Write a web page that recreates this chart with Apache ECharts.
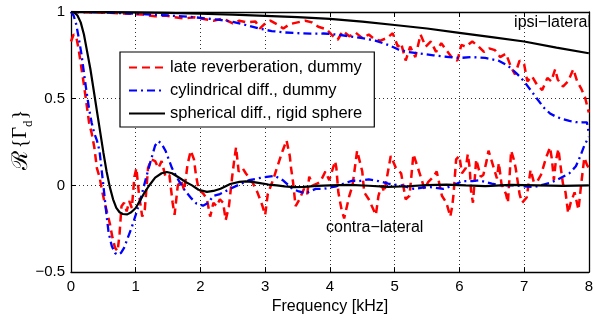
<!DOCTYPE html>
<html>
<head>
<meta charset="utf-8">
<script src="https://cdn.jsdelivr.net/npm/echarts@6/dist/echarts.min.js"></script>
<style>html,body{margin:0;padding:0;background:#fff}#c{width:596px;height:320px}</style>
</head>
<body>
<div id="c"></div>
<script>
// ---- data (frequency in kHz, value of Re{Gamma_d}) ----
const seriesNames = ['late reverberation, dummy', 'cylindrical diff., dummy', 'spherical diff., rigid sphere'];
const xTicks = [0, 1, 2, 3, 4, 5, 6, 7, 8];
const yTicks = [-0.5, 0, 0.5, 1];

// late reverberation, dummy — ipsi-lateral
const redIpsi = [[0,1.0],[0.3,0.998],[0.6,0.995],[0.9,0.99],[1.1,0.985],[1.3,0.975],[1.45,0.98],[1.6,0.97],[1.75,0.962],[1.9,0.97],[2.05,0.96],[2.2,0.95],[2.35,0.962],[2.5,0.935],[2.6,0.95],[2.72,0.94],[2.85,0.945],[2.92,0.905],[3.0,0.935],[3.08,0.95],[3.18,0.93],[3.28,0.905],[3.38,0.93],[3.5,0.94],[3.62,0.95],[3.72,0.94],[3.82,0.915],[3.95,0.9],[4.05,0.86],[4.12,0.84],[4.2,0.89],[4.3,0.86],[4.4,0.88],[4.5,0.85],[4.6,0.87],[4.68,0.845],[4.78,0.835],[4.88,0.85],[4.97,0.877],[5.05,0.8],[5.1,0.82],[5.17,0.72],[5.24,0.8],[5.32,0.74],[5.4,0.87],[5.48,0.8],[5.56,0.83],[5.64,0.77],[5.72,0.82],[5.8,0.78],[5.9,0.73],[5.97,0.72],[6.03,0.81],[6.1,0.8],[6.2,0.83],[6.3,0.8],[6.38,0.77],[6.46,0.79],[6.55,0.78],[6.63,0.74],[6.72,0.76],[6.8,0.68],[6.86,0.64],[6.93,0.72],[7.0,0.7],[7.05,0.6],[7.12,0.63],[7.2,0.58],[7.28,0.55],[7.36,0.62],[7.42,0.6],[7.48,0.67],[7.52,0.61],[7.6,0.57],[7.68,0.6],[7.76,0.67],[7.82,0.6],[7.88,0.56],[7.94,0.51],[7.97,0.5],[8.0,0.42]];
// late reverberation, dummy — contra-lateral
const redContra = [[0,0.83],[0.04,0.87],[0.08,0.86],[0.12,0.78],[0.16,0.68],[0.2,0.58],[0.24,0.47],[0.28,0.36],[0.32,0.3],[0.36,0.22],[0.4,0.1],[0.44,0.05],[0.48,-0.03],[0.52,-0.1],[0.56,-0.16],[0.6,-0.22],[0.64,-0.3],[0.68,-0.36],[0.72,-0.38],[0.75,-0.28],[0.78,-0.12],[0.82,-0.1],[0.86,-0.15],[0.9,-0.09],[0.94,-0.13],[0.98,0.05],[1.01,0.1],[1.05,-0.05],[1.1,-0.18],[1.14,-0.14],[1.19,0.1],[1.24,0.15],[1.3,0.14],[1.35,0.1],[1.4,0.14],[1.46,0.05],[1.52,0.06],[1.57,-0.1],[1.6,-0.17],[1.65,0.0],[1.7,0.03],[1.75,-0.03],[1.8,0.12],[1.85,0.2],[1.9,0.15],[1.93,0.06],[1.97,-0.02],[2.05,-0.05],[2.1,-0.08],[2.15,-0.18],[2.2,-0.1],[2.25,-0.12],[2.3,-0.08],[2.35,-0.1],[2.39,-0.2],[2.44,-0.12],[2.49,0.05],[2.52,0.14],[2.55,0.22],[2.59,0.08],[2.65,0.1],[2.7,0.07],[2.8,0.02],[2.88,-0.04],[2.95,-0.11],[3.0,-0.17],[3.04,-0.05],[3.13,0.04],[3.18,0.1],[3.27,0.2],[3.33,0.26],[3.38,0.17],[3.4,0.1],[3.43,0.02],[3.47,-0.12],[3.53,-0.08],[3.6,-0.02],[3.65,-0.05],[3.68,0.05],[3.74,0.0],[3.8,0.01],[3.85,0.02],[3.93,0.08],[3.99,0.03],[4.08,0.14],[4.1,0.1],[4.13,-0.04],[4.18,-0.14],[4.22,-0.19],[4.3,-0.06],[4.35,0.0],[4.42,0.2],[4.5,0.08],[4.53,-0.04],[4.6,-0.08],[4.71,-0.17],[4.75,-0.06],[4.8,0.0],[4.84,-0.04],[4.94,0.17],[5.02,0.1],[5.1,0.07],[5.17,-0.08],[5.23,-0.06],[5.29,0.18],[5.36,0.1],[5.42,0.03],[5.46,-0.02],[5.52,0.02],[5.6,0.05],[5.65,0.08],[5.73,-0.06],[5.8,-0.1],[5.86,-0.18],[5.89,-0.12],[5.91,-0.05],[5.95,0.15],[6.0,0.17],[6.04,0.07],[6.1,0.1],[6.13,0.18],[6.16,0.1],[6.18,-0.03],[6.21,-0.1],[6.26,0.15],[6.33,0.05],[6.37,0.06],[6.42,0.14],[6.45,0.2],[6.5,0.14],[6.58,0.04],[6.61,0.13],[6.65,0.01],[6.72,-0.05],[6.75,-0.1],[6.8,0.2],[6.84,0.15],[6.87,0.1],[6.93,-0.05],[6.97,-0.1],[7.04,-0.07],[7.1,0.09],[7.15,0.02],[7.2,0.02],[7.26,0.06],[7.34,0.16],[7.4,0.22],[7.43,0.15],[7.46,0.03],[7.49,0.14],[7.53,0.21],[7.56,0.12],[7.6,0.01],[7.64,-0.04],[7.68,-0.16],[7.72,-0.1],[7.78,-0.04],[7.84,-0.14],[7.88,0.0],[7.93,0.16],[7.97,0.12],[8.0,0.1]];
// cylindrical diffuse, dummy — ipsi-lateral
const blueIpsi = [[0,1.0],[0.5,0.998],[1.0,0.99],[1.5,0.98],[1.9,0.97],[2.1,0.962],[2.3,0.955],[2.5,0.943],[2.7,0.925],[2.9,0.905],[3.1,0.89],[3.3,0.882],[3.5,0.878],[3.7,0.875],[3.9,0.876],[4.1,0.87],[4.3,0.86],[4.5,0.85],[4.7,0.835],[4.9,0.81],[5.05,0.785],[5.2,0.77],[5.4,0.76],[5.6,0.75],[5.8,0.742],[6.0,0.735],[6.2,0.74],[6.4,0.735],[6.6,0.72],[6.75,0.69],[6.9,0.64],[7.0,0.6],[7.1,0.55],[7.2,0.5],[7.3,0.45],[7.4,0.415],[7.5,0.395],[7.6,0.382],[7.7,0.372],[7.8,0.365],[7.9,0.364],[7.97,0.364],[8.0,0.3]];
// cylindrical diffuse, dummy — contra-lateral
const blueContra = [[0,1.0],[0.04,0.98],[0.08,0.93],[0.12,0.85],[0.16,0.76],[0.2,0.65],[0.24,0.54],[0.28,0.44],[0.32,0.36],[0.36,0.3],[0.4,0.26],[0.44,0.2],[0.47,0.1],[0.5,0.0],[0.54,-0.14],[0.58,-0.27],[0.63,-0.35],[0.68,-0.39],[0.72,-0.4],[0.77,-0.39],[0.82,-0.36],[0.88,-0.3],[0.94,-0.24],[1.0,-0.17],[1.07,-0.085],[1.15,0.03],[1.23,0.14],[1.3,0.23],[1.35,0.255],[1.4,0.24],[1.46,0.2],[1.56,0.1],[1.66,0.03],[1.76,-0.03],[1.86,-0.075],[1.94,-0.105],[2.04,-0.117],[2.12,-0.1],[2.2,-0.06],[2.3,-0.05],[2.46,-0.02],[2.6,0.005],[2.75,0.03],[2.95,0.045],[3.15,0.055],[3.28,0.028],[3.42,-0.02],[3.52,-0.035],[3.63,-0.045],[3.78,-0.02],[3.9,-0.02],[4.1,-0.005],[4.25,0.015],[4.35,0.028],[4.45,0.025],[4.6,0.035],[4.75,0.025],[4.9,0.01],[5.1,0.0],[5.3,-0.02],[5.45,-0.012],[5.55,-0.01],[5.75,-0.02],[5.9,0.0],[6.05,0.025],[6.2,0.025],[6.3,0.03],[6.5,0.01],[6.65,0.0],[6.85,0.0],[7.0,-0.005],[7.15,-0.01],[7.3,0.005],[7.4,0.015],[7.5,0.03],[7.6,0.05],[7.7,0.07],[7.8,0.11],[7.87,0.17],[7.93,0.23],[8.0,0.28]];
// spherical diffuse, rigid sphere — ipsi-lateral
const blackIpsi = [[0,1.0],[0.5,0.9995],[1,0.998],[1.5,0.995],[2,0.99],[2.5,0.985],[3,0.978],[3.5,0.97],[4,0.96],[4.5,0.945],[5,0.925],[5.5,0.905],[6,0.88],[6.5,0.855],[7,0.83],[7.5,0.795],[8,0.762]];
// spherical diffuse, rigid sphere — contra-lateral
const blackContra = [[0,1.0],[0.05,0.997],[0.1,0.98],[0.15,0.94],[0.2,0.87],[0.25,0.77],[0.3,0.67],[0.35,0.55],[0.4,0.43],[0.45,0.31],[0.5,0.19],[0.55,0.08],[0.6,-0.01],[0.65,-0.08],[0.7,-0.13],[0.75,-0.155],[0.8,-0.165],[0.87,-0.167],[0.93,-0.155],[1.0,-0.13],[1.07,-0.085],[1.13,-0.045],[1.2,-0.005],[1.3,0.045],[1.4,0.07],[1.48,0.077],[1.56,0.07],[1.66,0.047],[1.77,0.02],[1.87,0.0],[1.97,-0.025],[2.1,-0.037],[2.2,-0.032],[2.31,-0.019],[2.46,0.008],[2.6,0.02],[2.7,0.023],[2.8,0.02],[2.92,0.013],[3.05,0.005],[3.18,0.0],[3.3,-0.006],[3.44,-0.01],[3.6,-0.008],[3.8,-0.003],[4.0,0.0],[4.3,0.003],[4.6,-0.002],[4.9,-0.008],[5.2,-0.005],[5.5,0.002],[5.8,0.005],[6.1,0.0],[6.4,-0.004],[6.8,0.003],[7.2,0.0],[7.6,-0.003],[8.0,0.0]];

// ---- chart ----
const FONT = '"Liberation Sans", Arial, Helvetica, sans-serif';
const SERIF = '"Liberation Serif", "DejaVu Serif", serif';
const chart = echarts.init(document.getElementById('c'), null, {renderer: 'canvas'});
const minus = v => String(v).replace('-', '\u2212');

const xMin = xTicks[0], xMax = xTicks[xTicks.length - 1];
const yMin = yTicks[0], yMax = yTicks[yTicks.length - 1];

function xAx(pos, show) {
  return {
    type: 'value', position: pos, min: xMin, max: xMax, interval: 1,
    axisLine: {show: true, onZero: false, lineStyle: {color: '#000', width: 1.3}},
    axisTick: {show: true, inside: true, length: 5, lineStyle: {color: '#000', width: 1}},
    axisLabel: {show: show, margin: 7, color: '#000', fontSize: 15, fontFamily: FONT, formatter: minus},
    splitLine: {show: show, lineStyle: {color: '#333', width: 1, type: [1, 3]}},
    name: show ? 'Frequency [kHz]' : '', nameLocation: 'middle', nameGap: 25,
    nameTextStyle: {color: '#000', fontSize: 16, fontFamily: FONT}
  };
}
function yAx(pos, show) {
  return {
    type: 'value', position: pos, min: yMin, max: yMax, interval: 0.5,
    axisLine: {show: true, onZero: false, lineStyle: {color: '#000', width: 1.3}},
    axisTick: {show: true, inside: true, length: 5, lineStyle: {color: '#000', width: 1}},
    axisLabel: {show: show, margin: 6, color: '#000', fontSize: 15, fontFamily: FONT, formatter: minus},
    splitLine: {show: show, lineStyle: {color: '#333', width: 1, type: [1, 3]}}
  };
}

const styles = [
  {color: '#ff0000', width: 2.5, type: [8, 5]},
  {color: '#0000ff', width: 2.3, type: [8, 4, 2, 4]},
  {color: '#000000', width: 2.2, type: 'solid'}
];
const dataSets = [[redIpsi, redContra], [blueIpsi, blueContra], [blackIpsi, blackContra]];
const series = [];
dataSets.forEach((pair, i) => {
  pair.forEach(d => {
    series.push({
      name: seriesNames[i], type: 'line', data: d, showSymbol: false, symbol: 'none',
      animation: false, silent: true, z: 2 + i,
      lineStyle: Object.assign({}, styles[i]), itemStyle: {color: styles[i].color}
    });
  });
});

chart.setOption({
  backgroundColor: '#fff',
  animation: false,
  grid: {left: 71, right: 4, top: 12, bottom: 43, containLabel: false},
  xAxis: [xAx('bottom', true), xAx('top', false)],
  yAxis: [yAx('left', true), yAx('right', false)],
  legend: {
    data: seriesNames, orient: 'vertical', left: 120, top: 52,
    padding: [7, 12, 5, 8], itemGap: 6, itemWidth: 36, itemHeight: 14,
    backgroundColor: '#fff', borderColor: '#000', borderWidth: 1.2, borderRadius: 0,
    itemStyle: {opacity: 0},
    textStyle: {color: '#000', fontSize: 16.5, fontFamily: FONT},
    selectedMode: false
  },
  series: series,
  graphic: [
    {type: 'text', x: 591, y: 23, z: 10, silent: true,
     style: {text: 'ipsi\u2212lateral', fill: '#000', fontSize: 16, fontFamily: FONT, align: 'right', verticalAlign: 'middle'}},
    {type: 'text', x: 326, y: 228, z: 10, silent: true,
     style: {text: 'contra\u2212lateral', fill: '#000', fontSize: 16, fontFamily: FONT, align: 'left', verticalAlign: 'middle'}},
    {type: 'text', x: 21, y: 140, rotation: Math.PI / 2, z: 10, silent: true,
     style: {
       text: '{R|\u211B}{b|{}{g|\u0393}{s|d}}',
       fill: '#000', fontSize: 20, fontFamily: SERIF, lineHeight: 28,
       align: 'center', verticalAlign: 'middle',
       rich: {
         R: {fontSize: 22, fontFamily: '"DejaVu Serif", "Liberation Serif", serif', lineHeight: 28, fill: '#000', padding: [0, 3, 0, 0]},
         b: {fontSize: 20, fontFamily: SERIF, lineHeight: 28, fill: '#000'},
         g: {fontSize: 20, fontFamily: SERIF, lineHeight: 28, fill: '#000'},
         s: {fontSize: 13, fontFamily: SERIF, lineHeight: 13, verticalAlign: 'bottom', fill: '#000', padding: [0, 1, 0, 0]}
       }
     }}
  ]
});
</script>
</body>
</html>
